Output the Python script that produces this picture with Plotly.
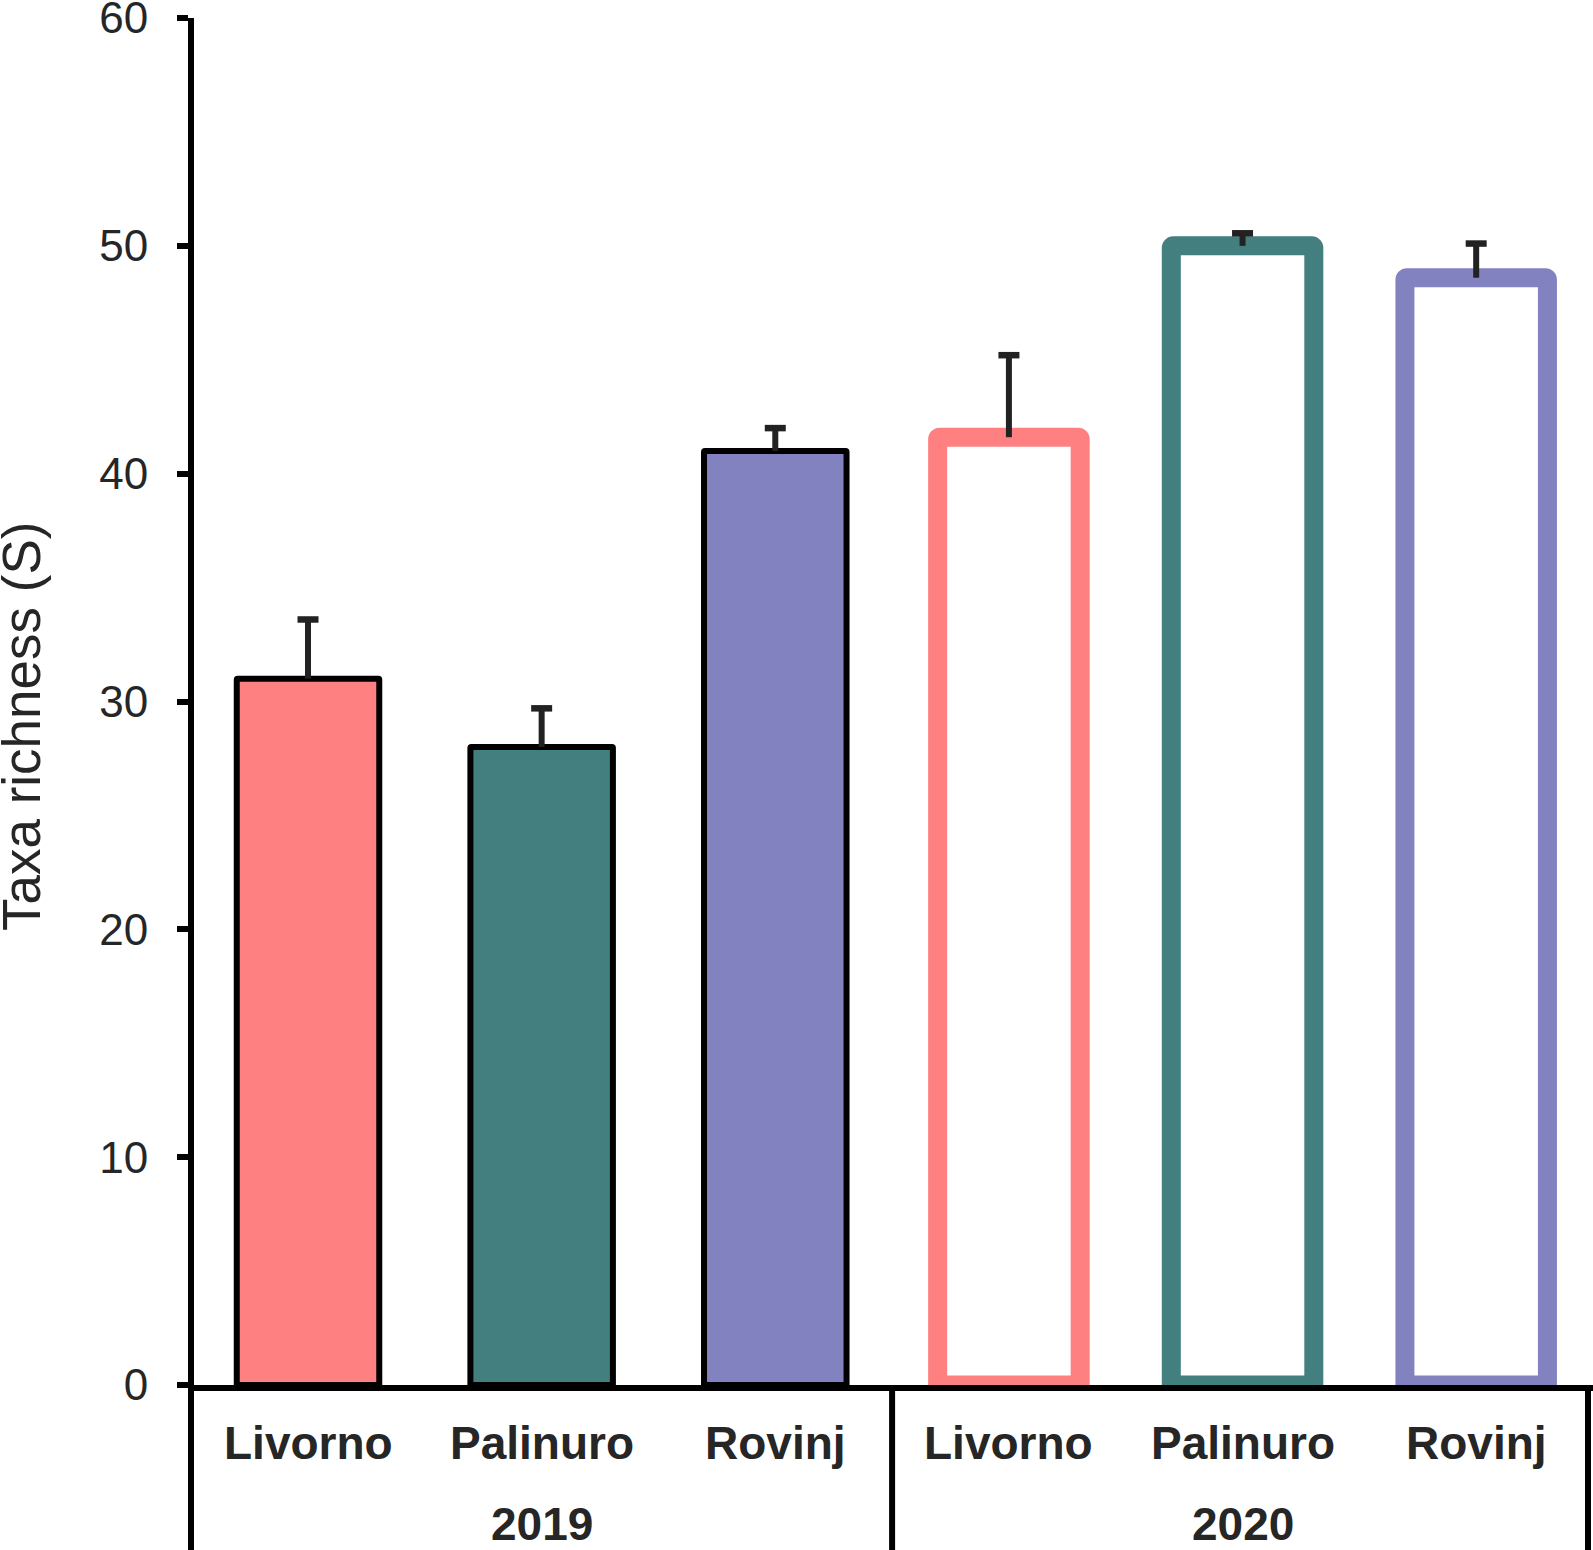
import plotly.graph_objects as go

# taxa richness per site and year, with one-sided error (upper only)
sites = ["Livorno", "Palinuro", "Rovinj"]
years = ["2019", "2020"]
richness_2019 = [31.0, 28.0, 41.0]
err_2019 = [2.6, 1.7, 1.0]
richness_2020 = [41.6, 50.0, 48.6]
err_2020 = [3.6, 0.55, 1.5]
site_colors = ["#FF8080", "#427F7E", "#8382C1"]

W, H = 1593, 1550
ML, MR, MT, MB = 194, 0, 18, 165
PW, PH = W - ML - MR, H - MT - MB
XR = [-0.488, 5.5]

def px_x(p):  # page pixel -> paper
    return (p - ML) / PW

def px_y(p):
    return (H - MB - p) / PH

def cat_x(c):  # category position -> paper
    return (c - XR[0]) / (XR[1] - XR[0])

font = "Arial, Liberation Sans, sans-serif"
txt = "#262626"
err_col = "#222222"

n_site = len(sites)
n = n_site * len(years)
x2019 = list(range(n_site))
x2020 = [i + n_site for i in range(n_site)]

fig = go.Figure()
fig.add_trace(go.Bar(
    x=x2019, y=richness_2019, width=0.61,
    marker=dict(color=site_colors, line=dict(color="black", width=6), cornerradius=1),
    error_y=dict(type="data", symmetric=False, array=err_2019, arrayminus=[0] * n_site,
                 color=err_col, thickness=6, width=0),
    showlegend=False,
))
fig.add_trace(go.Bar(
    x=x2020, y=richness_2020, width=0.61,
    marker=dict(color="white", line=dict(color=site_colors, width=19), cornerradius=2),
    error_y=dict(type="data", symmetric=False, array=err_2020, arrayminus=[0] * n_site,
                 color=err_col, thickness=6, width=0),
    showlegend=False,
))
# caps only on top of the error whiskers
tops = [v + e for v, e in zip(richness_2019 + richness_2020, err_2019 + err_2020)]
fig.add_trace(go.Scatter(
    x=x2019 + x2020, y=tops, mode="markers",
    marker=dict(symbol="line-ew", size=15, line=dict(width=6.5, color=err_col)),
    showlegend=False, hoverinfo="skip",
))

ann = []
for k, yr in enumerate(years):
    for i, s in enumerate(sites):
        ann.append(dict(x=k * n_site + i, xref="x", y=px_y(1443), yref="paper",
                        text="<b>%s</b>" % s, showarrow=False, yanchor="middle",
                        font=dict(family=font, size=46, color=txt)))
    ann.append(dict(x=k * n_site + 1, xref="x", y=px_y(1524), yref="paper",
                    text="<b>%s</b>" % yr, showarrow=False, yanchor="middle",
                    font=dict(family=font, size=46, color=txt)))
ann.append(dict(x=px_x(21), y=px_y(727), xref="paper", yref="paper", text="Taxa richness (S)",
                textangle=-90, showarrow=False, xanchor="center", yanchor="middle",
                font=dict(family=font, size=53, color=txt)))

# bracket lines below the axis
bottom = px_y(1560)
lines = [-3 / PW, cat_x(n_site - 0.5), px_x(1588)]
shapes = [dict(type="line", xref="paper", yref="paper", x0=xp, x1=xp, y0=-3 / PH, y1=bottom,
               line=dict(color="black", width=6)) for xp in lines]

fig.update_layout(
    width=W, height=H,
    margin=dict(l=ML, r=MR, t=MT, b=MB, autoexpand=False),
    plot_bgcolor="white", paper_bgcolor="white",
    annotations=ann, shapes=shapes,
    xaxis=dict(range=XR, showticklabels=False, ticks="", showgrid=False, automargin=False,
               zeroline=False, showline=True, linecolor="black", linewidth=6, fixedrange=True),
    yaxis=dict(range=[0, 60], tickvals=list(range(0, 61, 10)), ticks="outside", ticklen=11,
               tickwidth=6, tickcolor="black", showgrid=False, zeroline=False, automargin=False,
               showline=True, linecolor="black", linewidth=6, ticklabelstandoff=20,
               ticklabeloverflow="allow",
               tickfont=dict(family=font, size=44, color=txt)),
)

# drop the browser's default body margin so the figure sits at the page corner
fig.write_html("out.html", config={"displayModeBar": False},
               post_script="document.body.style.margin='0';")
